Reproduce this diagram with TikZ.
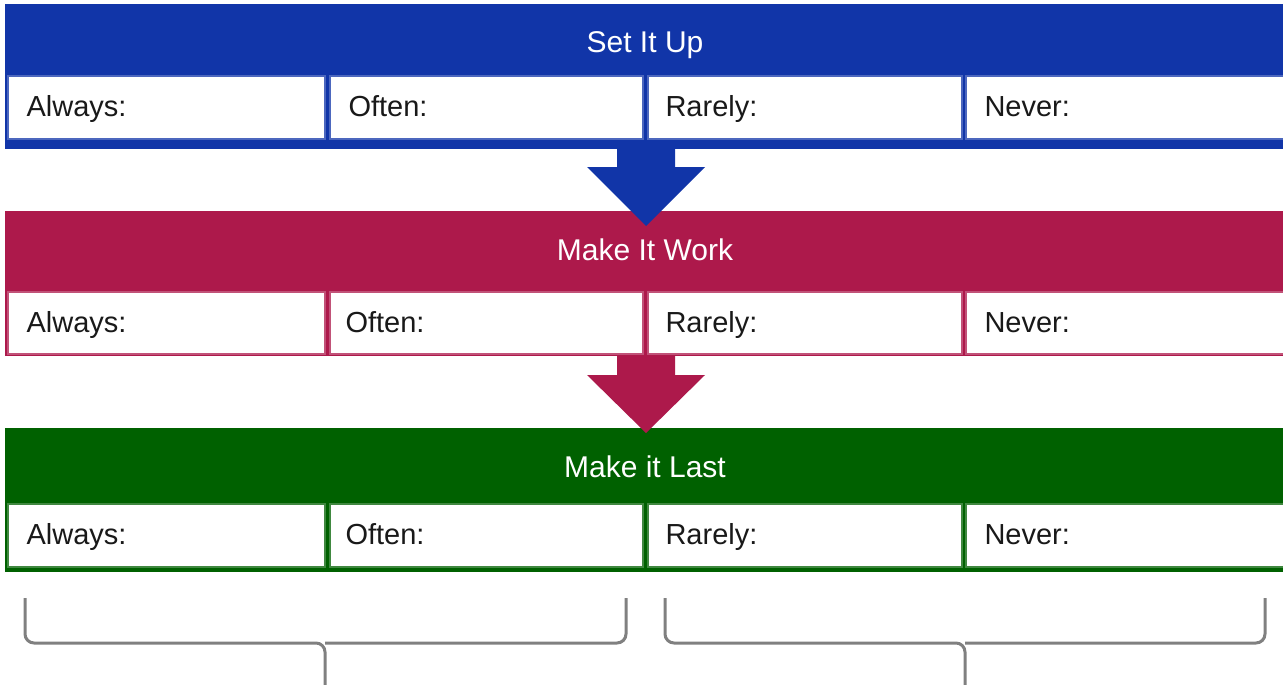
\documentclass[tikz,border=0pt]{standalone}
\usepackage{fontspec}
\setmainfont{Liberation Sans}
\begin{document}
\begin{tikzpicture}[x=1pt,y=-1pt,
  band/.style={fill=#1, draw=none},
  cell/.style={fill=white, draw=#1!75!white, line width=1.6pt},
  title/.style={text=white, font=\fontsize{30}{34}\selectfont, anchor=base},
  label/.style={text=black!90, font=\fontsize{29}{32}\selectfont, anchor=base west},
  flow/.style={fill=#1, draw=none},
  brace/.style={draw=black!50, line width=3pt, rounded corners=9pt}]
\definecolor{setblue}{HTML}{1135A8}
\definecolor{workred}{HTML}{AD194B}
\definecolor{lastgreen}{HTML}{006100}
\useasboundingbox (0,0) rectangle (1283,685);
\fill[white] (0,0) rectangle (1283,685);

% three coloured bands, each with a title and four cells
\foreach \name/\col/\top/\bot/\ctop/\cbot/\base/\ttl/\oft in {
    su/setblue/4/149/76/139/116/Set It Up/347,
    mw/workred/211/356/292/354/332/Make It Work/344,
    ml/lastgreen/428/572/504/567/544/Make it Last/344} {
  \fill[band=\col] (5,\top) rectangle (1290,\bot);
  \node[title] (\name-title) at (645,\top+49) {\ttl};
  \draw[cell=\col] (8,\ctop) rectangle (325,\cbot);
  \draw[cell=\col] (330,\ctop) rectangle (643,\cbot);
  \draw[cell=\col] (648,\ctop) rectangle (962,\cbot);
  \draw[cell=\col] (966,\ctop) rectangle (1300,\cbot);
  \node[label] (\name-always) at (23,\base) {Always:};
  \node[label] (\name-often) at (\oft-2,\base) {Often:};
  \node[label] (\name-rarely) at (662,\base) {Rarely:};
  \node[label] (\name-never) at (981,\base) {Never:};
}

% block arrows between the bands
\fill[flow=setblue] (617,149) -- (675,149) -- (675,167) -- (705,167) -- (646,226) -- (587,167) -- (617,167) -- cycle;
\fill[flow=workred] (617,356) -- (675,356) -- (675,375) -- (705,375) -- (646,433) -- (587,375) -- (617,375) -- cycle;

% grouping braces below the last band
\coordinate (b1l) at (25,598);
\coordinate (b1r) at (626,598);
\coordinate (b1m) at (325,690);
\coordinate (b2l) at (665,598);
\coordinate (b2r) at (1265,598);
\coordinate (b2m) at (965,690);
\draw[brace] (b1l) -- (25,643) -- (325,643) -- (b1m);
\draw[brace] (b1r) -- (626,643) -- (325,643);
\draw[brace] (b2l) -- (665,643) -- (965,643) -- (b2m);
\draw[brace] (b2r) -- (1265,643) -- (965,643);
\end{tikzpicture}
\end{document}
